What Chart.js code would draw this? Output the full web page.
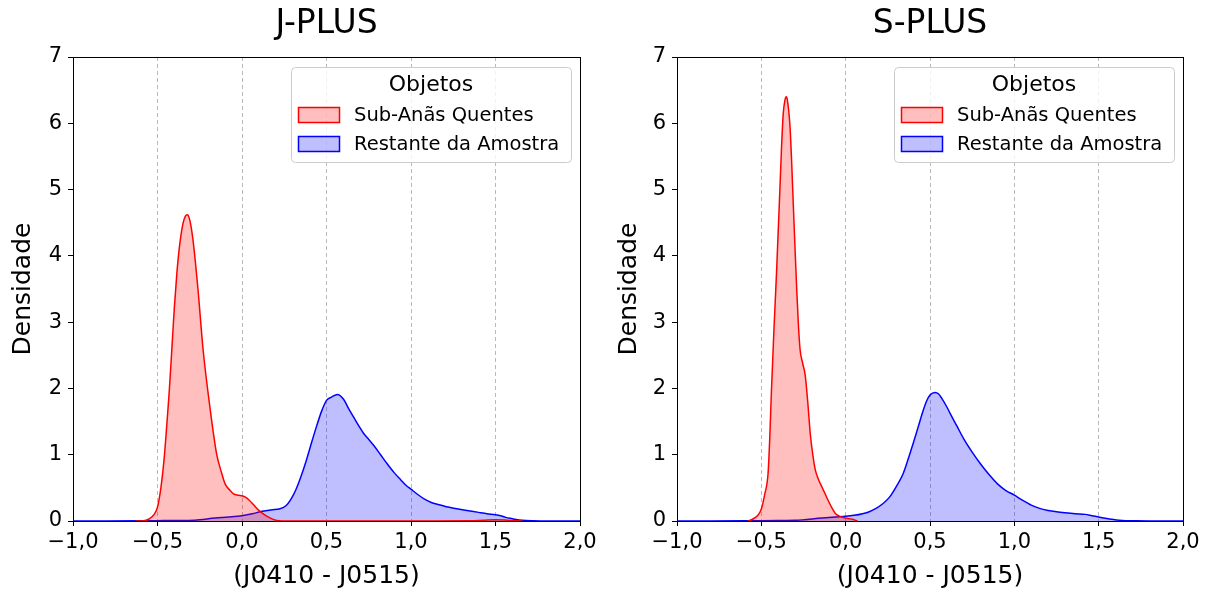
<!DOCTYPE html>
<html>
<head>
<meta charset="utf-8">
<script src="https://cdn.jsdelivr.net/npm/chart.js@4/dist/chart.umd.min.js"></script>
<style>
  html, body { margin: 0; padding: 0; background: #fff; }
  #wrap { position: relative; width: 1212px; height: 594px; }
  canvas { position: absolute; top: 0; }
  #c1 { left: 0; }
  #c2 { left: 606px; }
</style>
</head>
<body>
<div id="wrap">
  <canvas id="c1" width="606" height="594"></canvas>
  <canvas id="c2" width="606" height="594"></canvas>
</div>
<script>
// ---- Data ----
const panelTitles = ['J-PLUS', 'S-PLUS'];
const seriesNames = ['Sub-Anãs Quentes', 'Restante da Amostra'];
const legendTitle = 'Objetos';
const xAxisLabel = '(J0410 - J0515)';
const yAxisLabel = 'Densidade';
const xTickLabels = ['−1,0', '−0,5', '0,0', '0,5', '1,0', '1,5', '2,0'];
const yTickLabels = ['0', '1', '2', '3', '4', '5', '6', '7'];

// J-PLUS: hot subdwarfs (red)
const jplusRedX = [-0.63, -0.58, -0.55, -0.52, -0.50, -0.48, -0.46, -0.445, -0.43, -0.415, -0.40, -0.385, -0.37, -0.35, -0.335, -0.324, -0.31, -0.29, -0.26, -0.23, -0.19, -0.15, -0.12, -0.10, -0.07, -0.05, -0.02, 0.00, 0.02, 0.04, 0.07, 0.10, 0.13, 0.16, 0.19, 0.22, 0.30, 0.50, 0.80, 1.10, 1.35, 1.43, 1.50, 1.57, 1.62, 1.66];
const jplusRedY = [0.0, 0.005, 0.03, 0.10, 0.21, 0.50, 0.96, 1.45, 1.97, 2.60, 3.23, 3.75, 4.14, 4.48, 4.60, 4.62, 4.55, 4.24, 3.48, 2.58, 1.72, 1.01, 0.72, 0.56, 0.46, 0.41, 0.39, 0.38, 0.36, 0.32, 0.24, 0.16, 0.10, 0.055, 0.02, 0.005, 0.0, 0.0, 0.0, 0.0, 0.002, 0.012, 0.02, 0.012, 0.003, 0.0];

// J-PLUS: rest of the sample (blue)
const jplusBlueX = [-1.0, -0.8, -0.6, -0.5, -0.4, -0.28, -0.16, -0.08, 0.0, 0.06, 0.12, 0.18, 0.22, 0.26, 0.29, 0.32, 0.35, 0.38, 0.41, 0.44, 0.47, 0.50, 0.53, 0.565, 0.60, 0.63, 0.66, 0.69, 0.72, 0.75, 0.78, 0.82, 0.86, 0.90, 0.94, 0.97, 1.00, 1.04, 1.08, 1.12, 1.16, 1.22, 1.28, 1.34, 1.40, 1.45, 1.50, 1.53, 1.56, 1.60, 1.64, 1.68, 1.72, 1.80, 2.0];
const jplusBlueY = [0.0, 0.0, 0.002, 0.005, 0.008, 0.012, 0.045, 0.06, 0.08, 0.11, 0.146, 0.17, 0.18, 0.23, 0.33, 0.48, 0.68, 0.91, 1.17, 1.42, 1.65, 1.82, 1.87, 1.91, 1.84, 1.70, 1.57, 1.44, 1.32, 1.23, 1.14, 1.00, 0.86, 0.73, 0.62, 0.54, 0.48, 0.40, 0.33, 0.28, 0.25, 0.21, 0.18, 0.155, 0.13, 0.11, 0.095, 0.08, 0.055, 0.035, 0.015, 0.006, 0.003, 0.0, 0.0];

// S-PLUS: hot subdwarfs (red)
const splusRedX = [-0.58, -0.55, -0.52, -0.50, -0.48, -0.46, -0.45, -0.44, -0.425, -0.41, -0.39, -0.38, -0.37, -0.36, -0.352, -0.345, -0.33, -0.32, -0.31, -0.30, -0.29, -0.28, -0.27, -0.255, -0.24, -0.225, -0.21, -0.195, -0.18, -0.16, -0.14, -0.12, -0.10, -0.08, -0.06, -0.035, -0.01, 0.02, 0.04, 0.07];
const splusRedY = [0.0, 0.03, 0.086, 0.18, 0.40, 0.72, 1.25, 1.97, 2.90, 3.74, 5.00, 5.65, 6.15, 6.35, 6.40, 6.34, 5.95, 5.40, 4.74, 4.10, 3.48, 2.95, 2.58, 2.38, 2.20, 1.80, 1.32, 1.00, 0.77, 0.62, 0.51, 0.40, 0.29, 0.19, 0.11, 0.07, 0.05, 0.035, 0.025, 0.0];

// S-PLUS: rest of the sample (blue)
const splusBlueX = [-1.0, -0.8, -0.6, -0.5, -0.4, -0.3, -0.14, -0.06, 0.0, 0.05, 0.10, 0.14, 0.18, 0.22, 0.26, 0.30, 0.34, 0.37, 0.40, 0.43, 0.46, 0.48, 0.50, 0.53, 0.55, 0.57, 0.60, 0.62, 0.66, 0.70, 0.75, 0.80, 0.85, 0.90, 0.95, 1.00, 1.05, 1.10, 1.15, 1.20, 1.25, 1.30, 1.36, 1.42, 1.46, 1.50, 1.54, 1.58, 1.62, 1.66, 1.72, 1.80, 2.0];
const splusBlueY = [0.0, 0.0, 0.002, 0.005, 0.007, 0.01, 0.045, 0.06, 0.07, 0.085, 0.11, 0.14, 0.19, 0.26, 0.36, 0.52, 0.71, 0.93, 1.17, 1.42, 1.67, 1.81, 1.90, 1.94, 1.92, 1.85, 1.72, 1.62, 1.43, 1.24, 1.04, 0.86, 0.70, 0.56, 0.46, 0.39, 0.31, 0.24, 0.19, 0.16, 0.14, 0.125, 0.11, 0.10, 0.08, 0.06, 0.04, 0.025, 0.012, 0.005, 0.002, 0.0, 0.0];

// ---- Styles ----
const RED = '#ff0000', RED_FILL = 'rgba(255,0,0,0.25)';
const BLUE = '#0000ff', BLUE_FILL = 'rgba(0,0,255,0.25)';
const FONT = "'DejaVu Sans', sans-serif";
Chart.defaults.font.family = FONT;
Chart.defaults.color = '#000';

function toPoints(xs, ys) { return xs.map((x, i) => ({ x: x, y: ys[i] })); }

const framePlugin = {
  id: 'frameAndLegend',
  beforeDatasetsDraw(chart) {
    const { ctx, chartArea: a } = chart;
    ctx.save();
    ctx.strokeStyle = '#000';
    ctx.lineWidth = 1;
    ctx.strokeRect(a.left + 0.5, a.top + 0.5, a.right - a.left, a.bottom - a.top);
    ctx.restore();
  },
  afterDraw(chart) {
    const { ctx, chartArea: a } = chart;
    const w = 280, h = 95;
    const bx = a.right - 9 - w, by = a.top + 10;
    ctx.save();
    ctx.beginPath();
    ctx.roundRect(bx + 0.5, by + 0.5, w, h, 4);
    ctx.fillStyle = 'rgba(255,255,255,0.8)';
    ctx.fill();
    ctx.strokeStyle = '#cccccc';
    ctx.lineWidth = 1;
    ctx.stroke();
    ctx.fillStyle = '#000';
    ctx.font = '22px ' + FONT;
    ctx.textBaseline = 'middle';
    ctx.textAlign = 'center';
    ctx.fillText(legendTitle, bx + w / 2, by + 18);
    ctx.font = '19.5px ' + FONT;
    const items = [[RED, RED_FILL, seriesNames[0], 40], [BLUE, BLUE_FILL, seriesNames[1], 69]];
    ctx.textAlign = 'left';
    items.forEach(([c, f, label, dy]) => {
      ctx.fillStyle = f;
      ctx.fillRect(bx + 7.5, by + dy + 0.5, 41, 15);
      ctx.strokeStyle = c;
      ctx.lineWidth = 1.5;
      ctx.strokeRect(bx + 7.5, by + dy + 0.5, 41, 15);
      ctx.fillStyle = '#000';
      ctx.fillText(label, bx + 63, by + dy + 8.5);
    });
    ctx.restore();
  }
};

function makeChart(canvasId, title, redX, redY, blueX, blueY, leftW, rightPad) {
  return new Chart(document.getElementById(canvasId), {
    type: 'line',
    data: {
      datasets: [
        {
          label: seriesNames[0],
          data: toPoints(redX, redY),
          borderColor: RED, backgroundColor: RED_FILL,
          borderWidth: 1.5, pointRadius: 0, fill: 'origin',
          cubicInterpolationMode: 'monotone'
        },
        {
          label: seriesNames[1],
          data: toPoints(blueX, blueY),
          borderColor: BLUE, backgroundColor: BLUE_FILL,
          borderWidth: 1.5, pointRadius: 0, fill: 'origin',
          cubicInterpolationMode: 'monotone'
        }
      ]
    },
    options: {
      responsive: false,
      animation: false,
      devicePixelRatio: 1,
      events: [],
      layout: { padding: { left: 0, right: rightPad, top: 0, bottom: 0 } },
      plugins: {
        legend: { display: false },
        tooltip: { enabled: false },
        title: {
          display: true, text: title, color: '#000', fullSize: false,
          font: { size: 33, weight: 'normal', family: FONT, lineHeight: 1.2 },
          padding: { top: 5, bottom: 12.4 }
        }
      },
      scales: {
        x: {
          type: 'linear', min: -1, max: 2,
          afterFit(scale) { scale.height = 73; },
          ticks: {
            stepSize: 0.5, padding: 4, maxRotation: 0, autoSkip: false,
            font: { size: 21, family: FONT }, color: '#000',
            callback: (v, i) => xTickLabels[i]
          },
          grid: {
            drawOnChartArea: true, drawTicks: true, tickLength: 5,
            lineWidth: 0.8,
            color: (c) => (c.tick && (c.tick.value === -1 || c.tick.value === 2)) ? 'rgba(0,0,0,0)' : 'rgba(0,0,0,0.35)',
            tickColor: '#000', tickWidth: 1
          },
          border: { display: false, dash: [4, 3] },
          title: {
            display: true, text: xAxisLabel, color: '#000',
            font: { size: 25, family: FONT, lineHeight: 1.2 },
            padding: { top: 0, bottom: 3 }
          }
        },
        y: {
          type: 'linear', min: 0, max: 7,
          afterFit(scale) { scale.width = leftW; },
          ticks: {
            stepSize: 1, padding: 6,
            font: { size: 21, family: FONT }, color: '#000',
            callback: (v, i) => yTickLabels[i]
          },
          grid: { drawOnChartArea: false, drawTicks: true, tickLength: 5, tickColor: '#000', tickWidth: 1 },
          border: { display: false },
          title: {
            display: true, text: yAxisLabel, color: '#000',
            font: { size: 25, family: FONT, lineHeight: 1.2 },
            padding: { top: 8, bottom: 0 }
          }
        }
      }
    },
    plugins: [framePlugin]
  });
}

makeChart('c1', panelTitles[0], jplusRedX, jplusRedY, jplusBlueX, jplusBlueY, 73, 26);
makeChart('c2', panelTitles[1], splusRedX, splusRedY, splusBlueX, splusBlueY, 71, 29);
</script>
</body>
</html>
